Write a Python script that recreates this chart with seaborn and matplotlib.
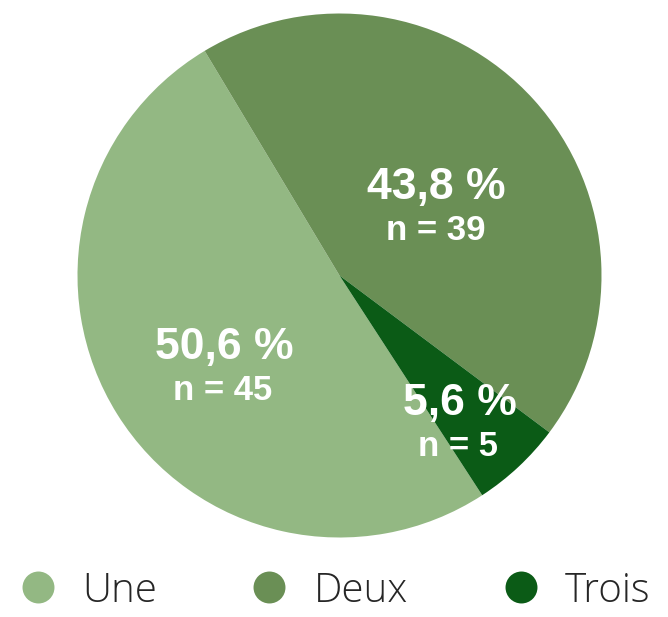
import numpy as np
import matplotlib
matplotlib.use("Agg")
import matplotlib.pyplot as plt
from matplotlib.lines import Line2D
import seaborn as sns

categories = ["Une", "Deux", "Trois"]
counts = [45, 39, 5]
colors = ["#93b883", "#6a8f55", "#0b5b16"]
label_dist = [0.52, 0.50, 0.67]

sns.set_theme(style="white")
plt.rcParams["font.family"] = ["Liberation Sans", "DejaVu Sans"]

W, H = 668, 617
fig = plt.figure(figsize=(W / 100, H / 100), dpi=100)
fig.patch.set_facecolor("white")
ax = fig.add_axes([77.5 / W, 79.5 / H, 524 / W, 524 / H])

startangle = -57
wedges, _ = ax.pie(counts, colors=colors, startangle=startangle, counterclock=False,
                   radius=1.0, wedgeprops=dict(linewidth=0))
ax.set_xlim(-1, 1)
ax.set_ylim(-1, 1)
ax.set_aspect("equal")
ax.axis("off")

total = sum(counts)
for w, n, r in zip(wedges, counts, label_dist):
    mid = np.deg2rad((w.theta1 + w.theta2) / 2)
    x, y = r * np.cos(mid), r * np.sin(mid)
    pct = f"{100 * n / total:.1f}".replace(".", ",") + " %"
    ax.annotate(pct, (x, y), ha="center", va="center", color="white",
                fontsize=32, fontweight="bold")
    ax.annotate(f"n = {n}", (x, y), xytext=(-1, -31), textcoords="offset points",
                ha="center", va="center", color="white", fontsize=25, fontweight="bold")

handles = [Line2D([0], [0], marker="o", linestyle="none", markersize=23,
                  markerfacecolor=c, markeredgewidth=0) for c in colors]
leg = fig.legend(handles, categories, loc="center", bbox_to_anchor=(0.5, 0.042),
                 ncol=3, frameon=False, handletextpad=0.6, columnspacing=2.3,
                 handlelength=1.0, borderpad=0, borderaxespad=0,
                 prop={"family": ["Open Sans", "DejaVu Sans"],
                       "weight": "light", "size": 29})

fig.savefig("out.png", dpi=100, facecolor="white")
